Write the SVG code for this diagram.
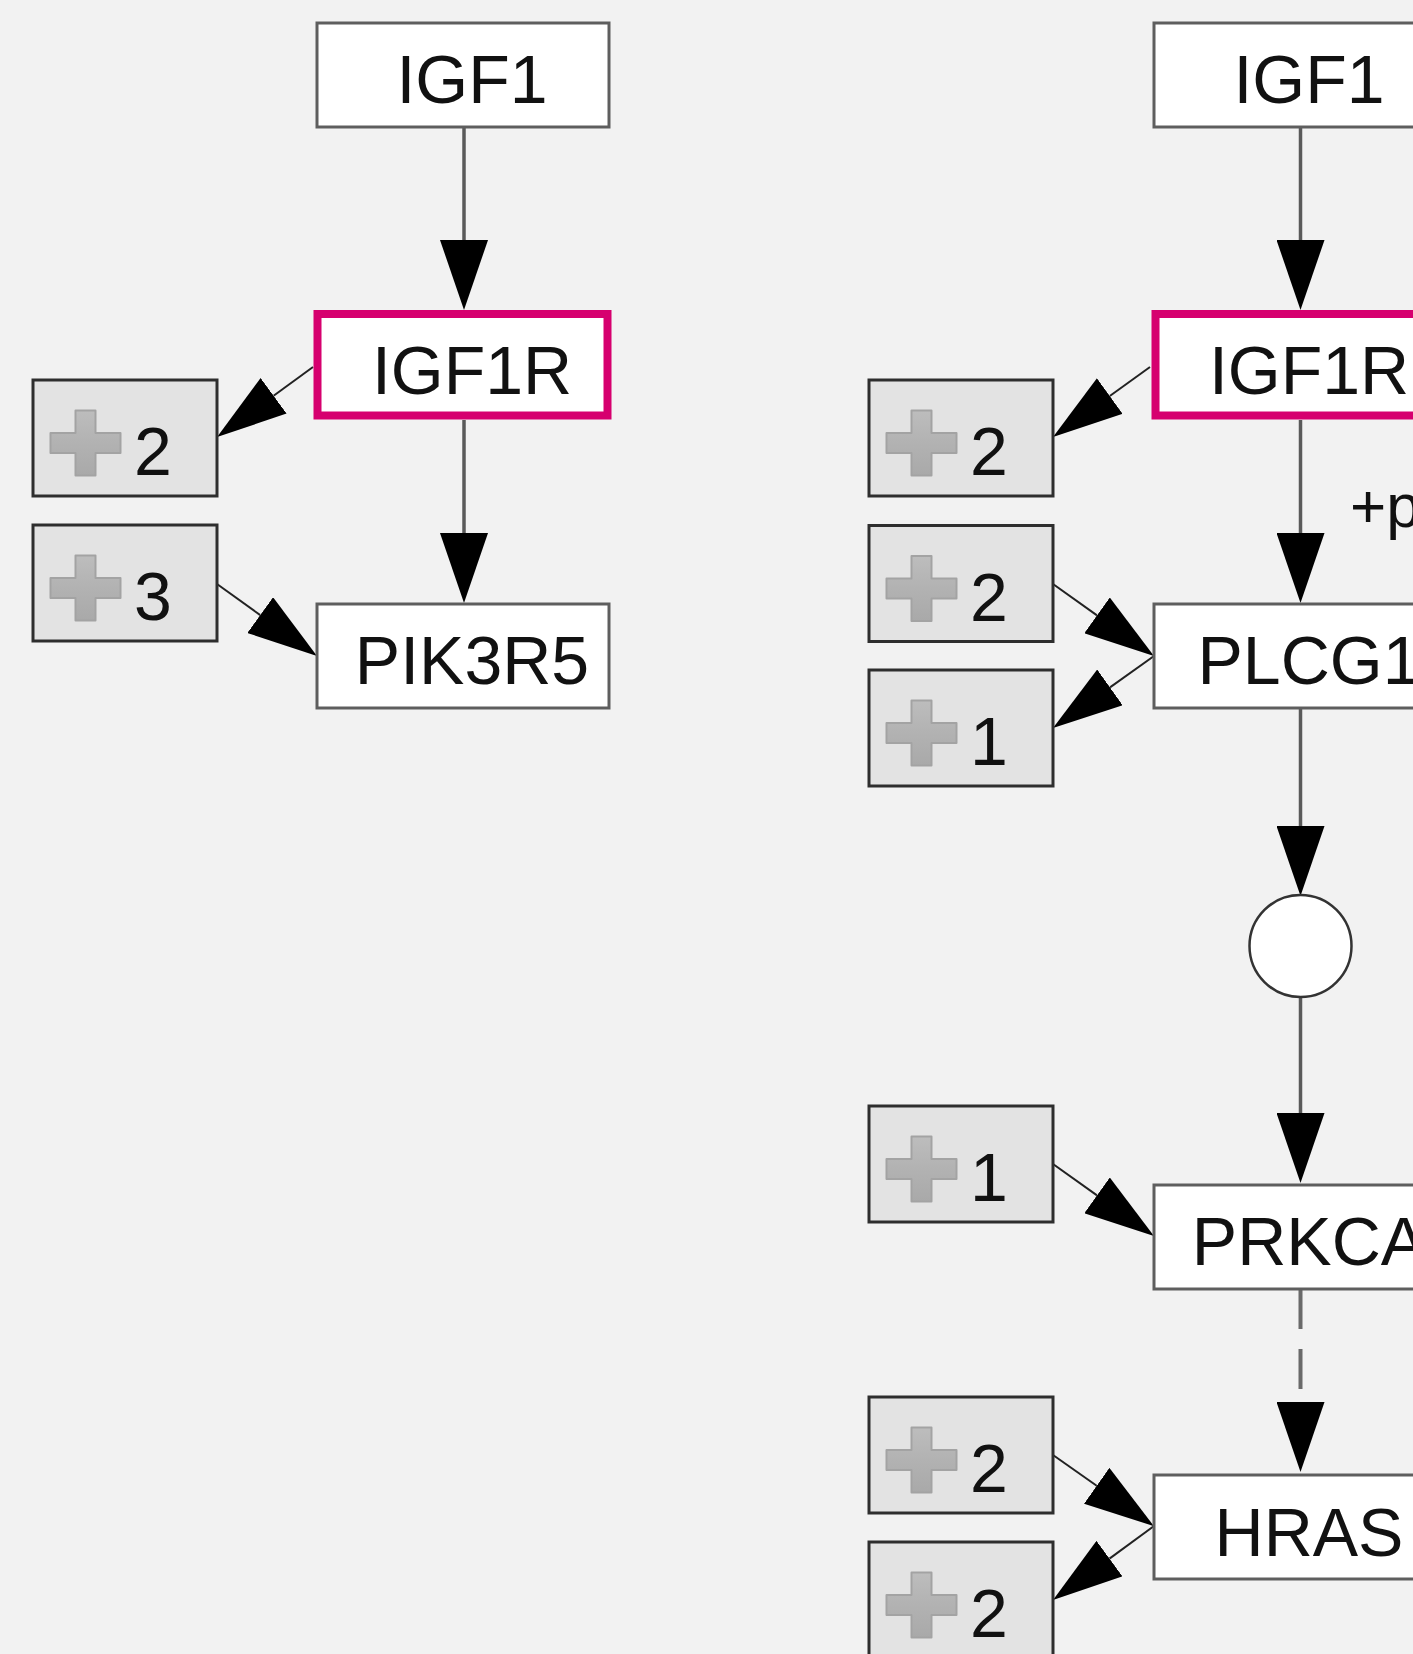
<svg xmlns="http://www.w3.org/2000/svg" xmlns:xlink="http://www.w3.org/1999/xlink" width="1413" height="1654" viewBox="0 0 1413 1654">
  <style>
    .bg { fill: #f2f2f2; }
    .node { fill: #ffffff; stroke: #5e5e5e; stroke-width: 3; }
    .hl { fill: #ffffff; stroke: #d6006f; stroke-width: 8; }
    .grp { fill: #e3e3e3; stroke: #2e2e2e; stroke-width: 3; }
    .lbl { font-family: "Liberation Sans", Arial, sans-serif; font-size: 68px; fill: #111; text-anchor: middle; }
    .num { font-family: "Liberation Sans", Arial, sans-serif; font-size: 68px; fill: #111; }
    .edge-label { font-family: "Liberation Sans", Arial, sans-serif; font-size: 62px; fill: #111; }
    .v { stroke: #5a5a5a; stroke-width: 3.5; fill: none; marker-end: url(#arrowV); }
    .d { stroke: #222; stroke-width: 2; fill: none; marker-end: url(#arrowD); }
    .dash { stroke-dasharray: 40 20; stroke: #6a6a6a; stroke-width: 4; }
    .compound { fill: #ffffff; stroke: #333; stroke-width: 2.5; }
  </style>
  <defs>
    <marker id="arrowV" markerUnits="userSpaceOnUse" viewBox="0 0 70 48" refX="0" refY="24" markerWidth="70" markerHeight="48" orient="auto">
      <path d="M0,0 L70,24 L0,48 Z" fill="#000"/>
    </marker>
    <marker id="arrowD" markerUnits="userSpaceOnUse" viewBox="0 0 70 44" refX="0" refY="22" markerWidth="70" markerHeight="44" orient="auto">
      <path d="M0,0 L70,22 L0,44 Z" fill="#000"/>
    </marker>
    <linearGradient id="plusGrad" x1="0" y1="0" x2="0" y2="1">
      <stop offset="0" stop-color="#bdbdbd"/>
      <stop offset="0.5" stop-color="#b2b2b2"/>
      <stop offset="1" stop-color="#a9a9a9"/>
    </linearGradient>
    <path id="plus" d="M-10,-32.5 h20 v22.5 h25 v20 h-25 v22.5 h-20 v-22.5 h-25 v-20 h25 Z" fill="url(#plusGrad)" stroke="#a3a3a3" stroke-width="2" stroke-linejoin="round"/>
  </defs>

  <rect class="bg" x="0" y="0" width="1413" height="1654"/>

  <g id="connectors">
    <!-- left column -->
    <line class="v" x1="464" y1="127" x2="464" y2="240"/>
    <line class="v" x1="464" y1="420" x2="464" y2="533"/>
    <line class="d" x1="313" y1="367" x2="273.6" y2="395.8"/>
    <line class="d" x1="217" y1="584" x2="260.2" y2="615.1"/>
    <!-- right column -->
    <line class="v" x1="1300.5" y1="127" x2="1300.5" y2="240"/>
    <line class="v" x1="1300.5" y1="420" x2="1300.5" y2="533"/>
    <line class="v" x1="1300.5" y1="709" x2="1300.5" y2="826"/>
    <line class="v" x1="1300.5" y1="997" x2="1300.5" y2="1113"/>
    <line class="v dash" x1="1300.5" y1="1289" x2="1300.5" y2="1402"/>
    <line class="d" x1="1150" y1="367" x2="1109.8" y2="396"/>
    <line class="d" x1="1053" y1="584" x2="1097" y2="615.4"/>
    <line class="d" x1="1154" y1="656" x2="1110" y2="687.4"/>
    <line class="d" x1="1053" y1="1164" x2="1097" y2="1195.4"/>
    <line class="d" x1="1053" y1="1455" x2="1096.7" y2="1485.8"/>
    <line class="d" x1="1154" y1="1526" x2="1109.5" y2="1558.6"/>
    <text class="edge-label" x="1350" y="527">+p</text>
  </g>

  <!-- left column nodes -->
  <g id="igf1-left">
    <rect class="node" x="317" y="23" width="292" height="104"/>
    <text class="lbl" x="472" y="103">IGF1</text>
  </g>
  <g id="igf1r-left">
    <rect class="hl" x="317.5" y="314" width="290" height="101.5"/>
    <text class="lbl" x="472" y="393.5">IGF1R</text>
  </g>
  <g id="pik3r5-left">
    <rect class="node" x="317" y="604" width="292" height="104"/>
    <text class="lbl" x="472" y="684">PIK3R5</text>
  </g>
  <g id="group-left-2">
    <rect class="grp" x="33" y="380" width="184" height="116"/>
    <use href="#plus" x="85.5" y="443"/>
    <text class="num" x="134" y="475">2</text>
  </g>
  <g id="group-left-3">
    <rect class="grp" x="33" y="525" width="184" height="116"/>
    <use href="#plus" x="85.5" y="588"/>
    <text class="num" x="134" y="620">3</text>
  </g>

  <!-- right column nodes -->
  <g id="igf1-right">
    <rect class="node" x="1154" y="23" width="292" height="104"/>
    <text class="lbl" x="1309" y="103">IGF1</text>
  </g>
  <g id="igf1r-right">
    <rect class="hl" x="1155.5" y="314" width="290" height="101.5"/>
    <text class="lbl" x="1309" y="393.5">IGF1R</text>
  </g>
  <g id="plcg1-right">
    <rect class="node" x="1154" y="604" width="292" height="104"/>
    <text class="lbl" x="1309" y="684">PLCG1</text>
  </g>
  <g id="compound-right">
    <circle class="compound" cx="1300.5" cy="946" r="51"/>
  </g>
  <g id="prkca-right">
    <rect class="node" x="1154" y="1185" width="292" height="104"/>
    <text class="lbl" x="1309" y="1265">PRKCA</text>
  </g>
  <g id="hras-right">
    <rect class="node" x="1154" y="1475" width="292" height="104"/>
    <text class="lbl" x="1309" y="1556">HRAS</text>
  </g>
  <g id="group-right-2a">
    <rect class="grp" x="869" y="380" width="184" height="116"/>
    <use href="#plus" x="921.5" y="443"/>
    <text class="num" x="970" y="475">2</text>
  </g>
  <g id="group-right-2b">
    <rect class="grp" x="869" y="525.5" width="184" height="116"/>
    <use href="#plus" x="921.5" y="588.5"/>
    <text class="num" x="970" y="620.5">2</text>
  </g>
  <g id="group-right-1a">
    <rect class="grp" x="869" y="670" width="184" height="116"/>
    <use href="#plus" x="921.5" y="733"/>
    <text class="num" x="970" y="765">1</text>
  </g>
  <g id="group-right-1b">
    <rect class="grp" x="869" y="1106" width="184" height="116"/>
    <use href="#plus" x="921.5" y="1169"/>
    <text class="num" x="970" y="1201">1</text>
  </g>
  <g id="group-right-2c">
    <rect class="grp" x="869" y="1397" width="184" height="116"/>
    <use href="#plus" x="921.5" y="1460"/>
    <text class="num" x="970" y="1492">2</text>
  </g>
  <g id="group-right-2d">
    <rect class="grp" x="869" y="1542" width="184" height="116"/>
    <use href="#plus" x="921.5" y="1605"/>
    <text class="num" x="970" y="1637">2</text>
  </g>
</svg>
